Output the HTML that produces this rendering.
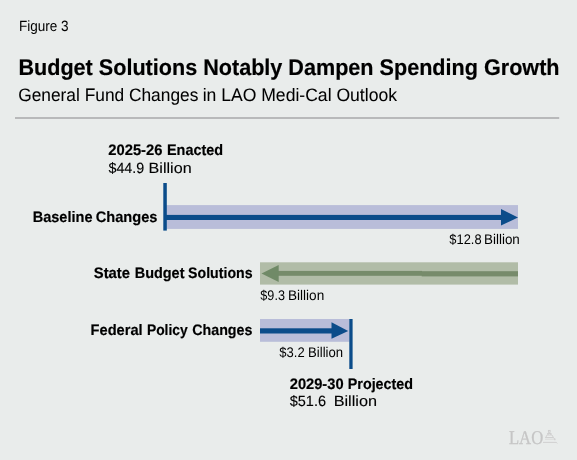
<!DOCTYPE html>
<html><head><meta charset="utf-8">
<style>
html,body{margin:0;padding:0;background:#e9eceb;}
body{width:577px;height:460px;overflow:hidden;}
svg{display:block;will-change:transform;}
text{font-family:"Liberation Sans",sans-serif;fill:#000;stroke:#000;stroke-width:0.12px;text-rendering:geometricPrecision;}
.b{stroke-width:0.18px;}
.b{font-weight:bold;}
</style></head><body>
<svg width="577" height="460" viewBox="0 0 577 460">
<rect x="0" y="0" width="577" height="460" fill="#e9eceb"/>
<rect x="15" y="117" width="544.2" height="2" fill="#b8b9ba"/>
<!-- baseline -->
<rect x="165" y="205.1" width="353" height="23.8" fill="#b9bdd9"/>
<rect x="165" y="214.9" width="337" height="5.1" fill="#0b4c8a"/>
<polygon points="501,208.9 518,217.5 501,225.5" fill="#0b4c8a"/>
<rect x="163.3" y="183" width="3.5" height="47.6" fill="#0b4c8a"/>
<!-- state -->
<rect x="260" y="262.3" width="258" height="22.3" fill="#b1bca7"/>
<rect x="277" y="270.9" width="145" height="4.9" fill="#768b6a"/>
<rect x="421.7" y="271.2" width="96.3" height="5.2" fill="#778b6b"/>
<polygon points="261.5,273.5 278.7,265 278.7,282" fill="#708a67"/>
<!-- federal -->
<rect x="260" y="319" width="89.5" height="22.8" fill="#b9bdd9"/>
<rect x="260" y="328.3" width="72" height="5.2" fill="#0b4c8a"/>
<polygon points="331.5,322.3 348.2,331 331.5,338.7" fill="#0b4c8a"/>
<rect x="349.3" y="319" width="3.3" height="50" fill="#0b4c8a"/>
<!-- capitol icon -->
<g fill="none" stroke="#cdcdcd" stroke-width="0.9">
<rect x="548.4" y="430.4" width="1.7" height="1.9"/>
<line x1="547.1" y1="433.5" x2="551.6" y2="433.5"/>
<path d="M545.8,437.4 Q546.4,434.3 549.3,433.9 Q552.6,434.3 553.5,437.6 L554.6,439"/>
<line x1="546.5" y1="435.4" x2="552" y2="435.4" stroke="#dadada"/>
<line x1="545.2" y1="437.5" x2="553.3" y2="437.5"/>
<line x1="545" y1="439.2" x2="555" y2="439.2" stroke="#d8d8d8"/>
<rect x="554" y="438.6" width="1.6" height="1.6" fill="#d2d2d2" stroke="none"/>
<path d="M543,442.4 L556.2,442.4 L557.4,443.3"/>
</g>

<text x="18.89" y="30.80" font-size="14.9" textLength="49.73" lengthAdjust="spacingAndGlyphs" style="stroke-width:0" xml:space="preserve">Figure 3</text>
<text class="b" x="18.43" y="74.80" font-size="22.7" textLength="541.10" lengthAdjust="spacingAndGlyphs" xml:space="preserve">Budget Solutions Notably Dampen Spending Growth</text>
<text x="18.20" y="100.65" font-size="18" textLength="180.15" lengthAdjust="spacingAndGlyphs" style="stroke-width:0.05px" xml:space="preserve">General Fund Changes</text>
<text x="202.63" y="100.65" font-size="18" textLength="194.36" lengthAdjust="spacingAndGlyphs" style="stroke-width:0.05px" xml:space="preserve">in LAO Medi-Cal Outlook</text>
<text class="b" x="108.27" y="154.68" font-size="15.2" textLength="54.20" lengthAdjust="spacingAndGlyphs" xml:space="preserve">2025-26</text>
<text class="b" x="166.98" y="154.68" font-size="15.2" textLength="56.06" lengthAdjust="spacingAndGlyphs" xml:space="preserve">Enacted</text>
<text class="b" x="32.70" y="221.77" font-size="15.2" textLength="59.81" lengthAdjust="spacingAndGlyphs" xml:space="preserve">Baseline</text>
<text class="b" x="95.72" y="221.77" font-size="15.2" textLength="61.78" lengthAdjust="spacingAndGlyphs" xml:space="preserve">Changes</text>
<text class="b" x="93.77" y="277.60" font-size="15.2" textLength="36.24" lengthAdjust="spacingAndGlyphs" xml:space="preserve">State</text>
<text class="b" x="134.71" y="277.60" font-size="15.2" textLength="49.78" lengthAdjust="spacingAndGlyphs" xml:space="preserve">Budget</text>
<text class="b" x="188.12" y="277.60" font-size="15.2" textLength="64.41" lengthAdjust="spacingAndGlyphs" xml:space="preserve">Solutions</text>
<text class="b" x="90.58" y="334.68" font-size="15.2" textLength="52.09" lengthAdjust="spacingAndGlyphs" xml:space="preserve">Federal</text>
<text class="b" x="146.90" y="334.68" font-size="15.2" textLength="40.88" lengthAdjust="spacingAndGlyphs" xml:space="preserve">Policy</text>
<text class="b" x="192.23" y="334.68" font-size="15.2" textLength="60.22" lengthAdjust="spacingAndGlyphs" xml:space="preserve">Changes</text>
<text class="b" x="289.72" y="388.68" font-size="15.2" textLength="53.88" lengthAdjust="spacingAndGlyphs" xml:space="preserve">2029-30</text>
<text class="b" x="347.76" y="388.68" font-size="15.2" textLength="65.29" lengthAdjust="spacingAndGlyphs" xml:space="preserve">Projected</text>
<text x="508.89" y="443.60" font-size="19.5" textLength="34.34" lengthAdjust="spacingAndGlyphs" style="font-family:'Liberation Serif',serif;fill:#c6c6c6;stroke:#c6c6c6;stroke-width:0.3px" xml:space="preserve">LAO</text>
<text x="449.37" y="243.80" font-size="14.0" textLength="32.20" lengthAdjust="spacingAndGlyphs" style="stroke-width:0" xml:space="preserve">$12.8</text>
<text x="484.03" y="243.80" font-size="14.0" textLength="35.80" lengthAdjust="spacingAndGlyphs" style="stroke-width:0" xml:space="preserve">Billion</text>
<text x="260.34" y="299.70" font-size="14.0" textLength="24.59" lengthAdjust="spacingAndGlyphs" style="stroke-width:0" xml:space="preserve">$9.3</text>
<text x="287.94" y="299.70" font-size="14.0" textLength="36.30" lengthAdjust="spacingAndGlyphs" style="stroke-width:0" xml:space="preserve">Billion</text>
<text x="279.29" y="356.60" font-size="14.0" textLength="25.34" lengthAdjust="spacingAndGlyphs" style="stroke-width:0" xml:space="preserve">$3.2</text>
<text x="308.05" y="356.60" font-size="14.0" textLength="35.02" lengthAdjust="spacingAndGlyphs" style="stroke-width:0" xml:space="preserve">Billion</text>
<text x="108.48" y="172.77" font-size="14.8" textLength="35.77" lengthAdjust="spacingAndGlyphs" xml:space="preserve">$44.9</text>
<text x="148.61" y="172.77" font-size="14.8" textLength="42.99" lengthAdjust="spacingAndGlyphs" xml:space="preserve">Billion</text>
<text x="289.75" y="405.77" font-size="14.8" textLength="36.28" lengthAdjust="spacingAndGlyphs" xml:space="preserve">$51.6</text>
<text x="333.65" y="405.77" font-size="14.8" textLength="43.33" lengthAdjust="spacingAndGlyphs" xml:space="preserve">Billion</text>
</svg>
</body></html>
